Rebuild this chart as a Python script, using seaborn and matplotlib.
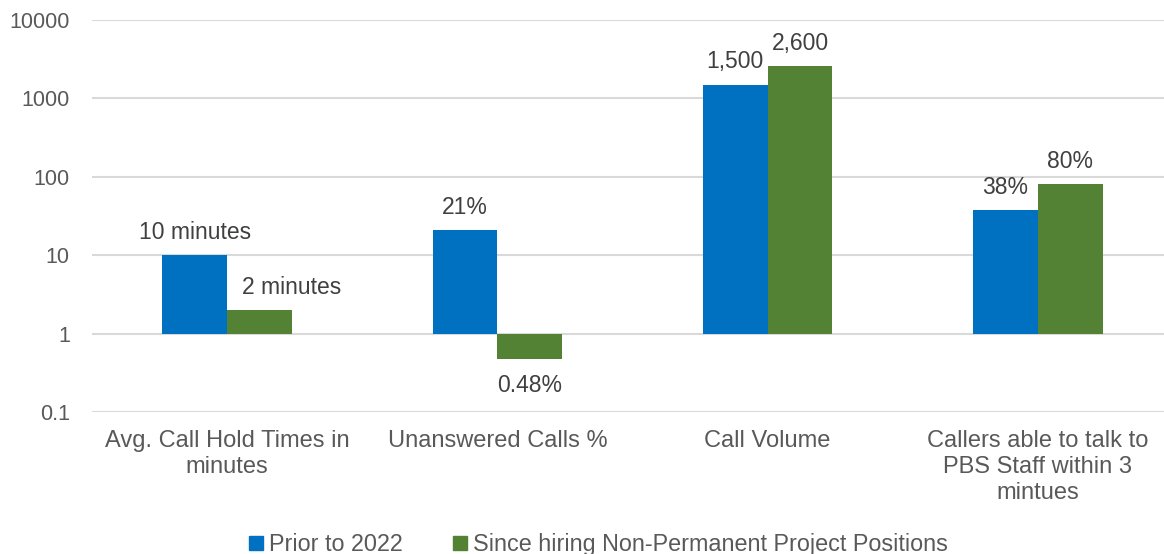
import matplotlib
matplotlib.use("Agg")
import matplotlib.pyplot as plt
import seaborn as sns
import pandas as pd
from matplotlib.ticker import FixedLocator, FixedFormatter

categories = ["Avg. Call Hold Times in\nminutes", "Unanswered Calls %", "Call Volume",
              "Callers able to talk to\nPBS Staff within 3\nmintues"]
series_names = ["Prior to 2022", "Since hiring Non-Permanent Project Positions"]
prior_values = [10, 21, 1500, 38]
since_values = [2, 0.48, 2600, 80]
prior_labels = ["10 minutes", "21%", "1,500", "38%"]
since_labels = ["2 minutes", "0.48%", "2,600", "80%"]
tick_values = [0.1, 1, 10, 100, 1000, 10000]
tick_labels = ["0.1", "1", "10", "100", "1000", "10000"]
colors = ["#0070C0", "#548235"]

df = pd.DataFrame({
    "category": categories * 2,
    "series": [series_names[0]] * 4 + [series_names[1]] * 4,
    "value": prior_values + since_values,
})

sns.set_style("white")
plt.rcParams["font.family"] = ["Liberation Sans", "DejaVu Sans"]
text_color = "#595959"

fig = plt.figure(figsize=(11.64, 5.54), dpi=100)
ax = fig.add_axes([92 / 1164, 1 - 412 / 554, (1173 - 92) / 1164, (412 - 20) / 554])

sns.barplot(data=df, x="category", y="value", hue="series", palette=colors,
            width=0.48, ax=ax, saturation=1, errorbar=None, legend=True)

ax.set_yscale("log")
ax.set_ylim(0.1, 10000)

all_vals = [prior_values, since_values]
all_labels = [prior_labels, since_labels]
for si, (cont, vals, labs) in enumerate(zip(ax.containers, all_vals, all_labels)):
    for ci, (rect, v, lab) in enumerate(zip(cont, vals, labs)):
        rect.set_y(1)
        rect.set_height(v - 1)
        rect.set_linewidth(0)
        cx = rect.get_x() + rect.get_width() / 2
        dx = 23 if (si == 1 and ci == 0) else 0
        if v >= 1:
            ax.annotate(lab, (cx, v), xytext=(dx, 8), textcoords="offset points",
                        ha="center", va="bottom", fontsize=16.5, color="#404040")
        else:
            ax.annotate(lab, (cx, v), xytext=(dx, -11), textcoords="offset points",
                        ha="center", va="top", fontsize=16.5, color="#404040")

ax.yaxis.set_major_locator(FixedLocator(tick_values))
ax.yaxis.set_major_formatter(FixedFormatter(tick_labels))
ax.yaxis.set_minor_locator(FixedLocator([]))
ax.grid(axis="y", color="#d9d9d9", linewidth=1.5)
ax.set_axisbelow(True)
for s in ax.spines.values():
    s.set_visible(False)
ax.tick_params(axis="y", length=0, pad=16, labelsize=15.5, labelcolor=text_color)
ax.tick_params(axis="x", length=0, pad=13, labelsize=17, labelcolor=text_color)
for t in ax.get_xticklabels():
    t.set_linespacing(1.22)
ax.set_xlabel("")
ax.set_ylabel("")
ax.set_xlim(-0.5, 3.5)

ax.get_legend().remove()
handles = [plt.Rectangle((0, 0), 1, 1, color=c) for c in colors]
fig.legend(handles, series_names, loc="lower center", bbox_to_anchor=(0.514, -0.042),
           ncol=2, frameon=False, fontsize=16.8, labelcolor=text_color,
           handlelength=0.6, handleheight=0.6, handletextpad=0.25, columnspacing=2.15)

fig.savefig("out.png", dpi=100)
